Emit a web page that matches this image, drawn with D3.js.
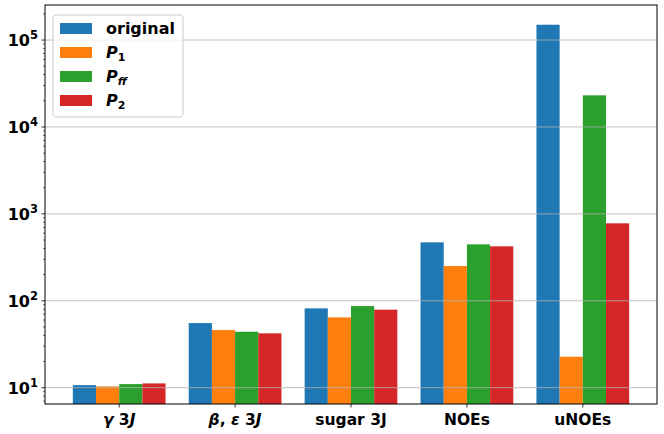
<!DOCTYPE html>
<html>
<head>
<meta charset="utf-8">
<script src="https://cdn.jsdelivr.net/npm/d3@7"></script>
<style>
  body { margin: 0; background: #fff; }
  text { font-family: "DejaVu Sans", sans-serif; font-weight: bold; fill: #000; }
</style>
</head>
<body>
<svg id="chart" width="664" height="434"></svg>
<script>
// ---- data ----
const categories = ["gamma3J", "betaeps3J", "sugar3J", "NOEs", "uNOEs"];
const seriesNames = ["original", "P1", "Pff", "P2"];
const original = [10.7, 55.4, 81.8, 470, 150000];
const P1 = [10.35, 46, 64.4, 251, 22.7];
const Pff = [11.0, 44, 86.9, 446, 23100];
const P2 = [11.2, 42.2, 79, 423, 778];
const yTickExponents = [1, 2, 3, 4, 5];

const seriesValues = [original, P1, Pff, P2];
const colors = ["#1f77b4", "#ff7f0e", "#2ca02c", "#d62728"];

const svg = d3.select("#chart");
const pLeft = 45, pRight = 657, pTop = 5, pBottom = 404;

const x = d3.scaleLinear().domain([-0.64, 4.64]).range([pLeft, pRight]);
const y = d3.scaleLog().domain([6.49, 2.53e5]).range([pBottom, pTop]);
const barW = 0.2;

// bars
const g = svg.append("g");
seriesValues.forEach((vals, si) => {
  g.selectAll(null).data(vals).enter().append("rect")
    .attr("x", (d, i) => x(i + (si - 1.5) * barW - barW / 2))
    .attr("width", x(barW) - x(0))
    .attr("y", d => y(d))
    .attr("height", d => pBottom - y(d))
    .attr("fill", colors[si]);
});

// grid (drawn above bars)
svg.append("g").selectAll("line").data(yTickExponents).enter().append("line")
  .attr("x1", pLeft).attr("x2", pRight)
  .attr("y1", d => y(Math.pow(10, d))).attr("y2", d => y(Math.pow(10, d)))
  .attr("stroke", "#b0b0b0").attr("stroke-opacity", 0.8).attr("stroke-width", 1);

// spines
svg.append("rect").attr("x", pLeft).attr("y", pTop).attr("width", pRight - pLeft).attr("height", pBottom - pTop)
  .attr("fill", "none").attr("stroke", "#000").attr("stroke-width", 1);

// y major ticks
const yAxis = svg.append("g");
yTickExponents.forEach(e => {
  const yy = y(Math.pow(10, e));
  yAxis.append("line").attr("x1", pLeft - 3.5).attr("x2", pLeft).attr("y1", yy).attr("y2", yy)
    .attr("stroke", "#000").attr("stroke-width", 0.8);
  const t = yAxis.append("text").attr("x", pLeft - 7).attr("y", yy + 6)
    .attr("text-anchor", "end").attr("font-size", 16);
  t.append("tspan").text("10");
  t.append("tspan").attr("dy", -7).attr("font-size", 11.5).text(String(e));
});
// y minor ticks
const [d0, d1] = y.domain();
const minors = [];
for (let e = 0; e <= 5; e++) {
  for (let m = 2; m <= 9; m++) {
    const v = m * Math.pow(10, e);
    if (v >= d0 && v <= d1) minors.push(v);
  }
}
yAxis.selectAll(".minor").data(minors).enter().append("line")
  .attr("x1", pLeft - 2).attr("x2", pLeft)
  .attr("y1", d => y(d)).attr("y2", d => y(d))
  .attr("stroke", "#000").attr("stroke-width", 0.6);

// x ticks and labels
const xAxis = svg.append("g");
categories.forEach((c, i) => {
  const xx = x(i);
  xAxis.append("line").attr("x1", xx).attr("x2", xx).attr("y1", pBottom).attr("y2", pBottom + 3.5)
    .attr("stroke", "#000").attr("stroke-width", 0.8);
});
function xlabel(i, parts) {
  const t = xAxis.append("text").attr("x", x(i)).attr("y", pBottom + 21)
    .attr("text-anchor", "middle").attr("font-size", 15.5);
  parts.forEach(p => {
    const s = t.append("tspan").text(p[0]);
    if (p[1]) s.attr("font-style", "italic");
  });
}
xlabel(0, [["γ", true], [" 3", false], ["J", true]]);
xlabel(1, [["β", true], [", ", false], ["ε", true], [" 3", false], ["J", true]]);
xlabel(2, [["sugar 3J", false]]);
xlabel(3, [["NOEs", false]]);
xlabel(4, [["uNOEs", false]]);

// legend
const lg = svg.append("g");
lg.append("rect").attr("x", 53).attr("y", 15).attr("width", 130).attr("height", 102)
  .attr("rx", 3).attr("fill", "#fff").attr("fill-opacity", 0.8)
  .attr("stroke", "#cccccc").attr("stroke-width", 1);
const legendLabels = [
  [["original", false, false]],
  [["P", true, false], ["1", false, true]],
  [["P", true, false], ["ff", true, true]],
  [["P", true, false], ["2", false, true]]
];
seriesNames.forEach((n, i) => {
  const yy = 23 + i * 24;
  lg.append("rect").attr("x", 60).attr("y", yy).attr("width", 32).attr("height", 11)
    .attr("fill", colors[i]);
  const t = lg.append("text").attr("x", 106).attr("y", yy + 11).attr("font-size", 16);
  legendLabels[i].forEach(p => {
    const s = t.append("tspan").text(p[0]);
    if (p[1]) s.attr("font-style", "italic");
    if (p[2]) s.attr("font-size", 11).attr("dy", 3);
  });
});
</script>
</body>
</html>
